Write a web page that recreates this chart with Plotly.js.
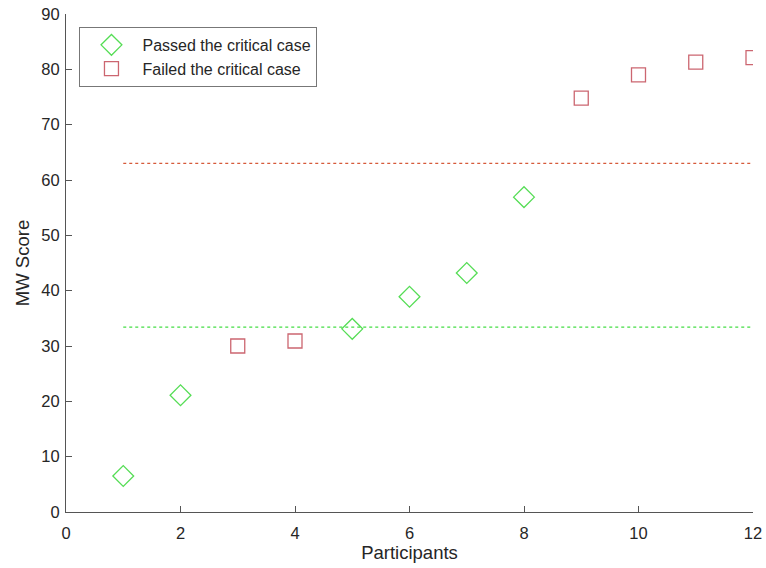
<!DOCTYPE html>
<html><head><meta charset="utf-8">
<script src="https://cdn.plot.ly/plotly-3.0.1.min.js"></script>
<style>html,body{margin:0;padding:0;background:#fff;}#chart{width:766px;height:568px;}</style>
</head><body><div id="chart"></div>
<script>
const passedX = [1, 2, 5, 6, 7, 8];
const passedY = [6.5, 21.1, 33.1, 38.9, 43.2, 56.9];
const failedX = [3, 4, 9, 10, 11, 12];
const failedY = [30.0, 30.9, 74.8, 79.0, 81.3, 82.1];
const passedMeanX = [1, 12];
const passedMean = 33.4;
const failedMeanX = [1, 12];
const failedMean = 63.0;
const xTicks = [0, 2, 4, 6, 8, 10, 12];
const yTicks = [0, 10, 20, 30, 40, 50, 60, 70, 80, 90];

const font = 'Liberation Sans, Arial, sans-serif';
const traces = [
  {x: passedX, y: passedY, mode: 'markers', type: 'scatter', name: 'Passed the critical case',
   marker: {symbol: 'diamond-open', size: 16, color: '#55dd55', line: {width: 1.3, color: '#55dd55'}}},
  {x: failedX, y: failedY, mode: 'markers', type: 'scatter', name: 'Failed the critical case',
   marker: {symbol: 'square-open', size: 14, color: '#cc6670', line: {width: 1.3, color: '#cc6670'}}},
  {x: passedMeanX, y: passedMeanX.map(() => passedMean), mode: 'lines', type: 'scatter', showlegend: false,
   line: {color: '#44dd44', width: 1.2, dash: '3px,3px'}},
  {x: failedMeanX, y: failedMeanX.map(() => failedMean), mode: 'lines', type: 'scatter', showlegend: false,
   line: {color: '#d65a3a', width: 1.2, dash: '3px,3px'}}
];
const axisCommon = {showgrid: false, zeroline: false, showline: true, linecolor: '#555', linewidth: 1,
  ticks: 'inside', ticklen: 6, tickcolor: '#555', tickfont: {family: font, size: 16.5, color: '#262626'}};
const layout = {
  width: 766, height: 568,
  margin: {l: 65.5, r: 13, t: 14, b: 56},
  paper_bgcolor: '#fff', plot_bgcolor: '#fff',
  font: {family: font, color: '#262626'},
  showlegend: true,
  legend: {x: 0.0196, y: 0.974, xanchor: 'left', yanchor: 'top', bgcolor: '#fff', bordercolor: '#777', borderwidth: 1,
    font: {family: font, size: 16, color: '#262626'}, itemwidth: 52, tracegroupgap: 0},
  xaxis: Object.assign({}, axisCommon, {range: [0, 12], tickvals: xTicks, ticktext: xTicks.map(String),
    ticklabelstandoff: 6,
    title: {text: 'Participants', font: {family: font, size: 18.5, color: '#262626'}, standoff: 4}}),
  yaxis: Object.assign({}, axisCommon, {range: [0, 90], tickvals: yTicks, ticktext: yTicks.map(String),
    ticklabelstandoff: 2,
    title: {text: 'MW Score', font: {family: font, size: 18.5, color: '#262626'}, standoff: 6}})
};
Plotly.newPlot('chart', traces, layout, {displayModeBar: false});
</script></body></html>
